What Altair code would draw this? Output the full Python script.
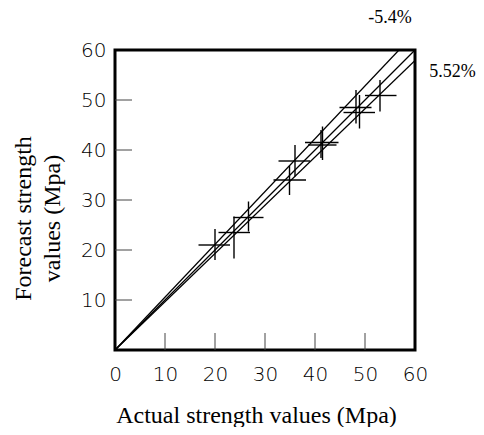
import altair as alt
import pandas as pd

# ---- data ----
pt_x = [20.0, 23.8, 26.7, 36.0, 34.9, 41.5, 41.2, 48.2, 48.9, 53.0]
pt_y = [21.0, 23.5, 26.5, 37.8, 34.0, 41.5, 41.0, 48.5, 47.5, 50.9]
x_lo = [16.7, 20.7, 23.7, 32.7, 31.7, 38.0, 38.6, 44.9, 45.7, 50.0]
x_hi = [23.0, 27.0, 29.7, 39.0, 38.2, 44.7, 44.3, 51.3, 52.0, 56.3]
y_lo = [18.0, 18.3, 23.7, 34.7, 31.0, 38.0, 38.4, 45.3, 44.3, 47.7]
y_hi = [24.2, 26.7, 29.7, 41.0, 36.8, 44.7, 44.0, 52.0, 51.0, 54.0]

line_names = ["upper", "middle", "lower"]
line_end_x = [56.8, 60.0, 60.0]
line_end_y = [60.0, 60.0, 57.9]

x_tick_labels = [0, 10, 20, 30, 40, 50, 60]
y_tick_labels = [10, 20, 30, 40, 50, 60]
inner_ticks = [10, 20, 30, 40, 50]
tick_len = 3.4

ann_text = ["-5.4%", "5.52%"]
ann_x = [55.0, 67.5]
ann_y = [66.5, 55.7]

# ---- tables ----
pts = pd.DataFrame({"px": pt_x, "py": pt_y, "xlo": x_lo, "xhi": x_hi,
                    "ylo": y_lo, "yhi": y_hi})
lines_rows = []
for n, ex, ey in zip(line_names, line_end_x, line_end_y):
    lines_rows.append({"id": n, "x": 0.0, "y": 0.0})
    lines_rows.append({"id": n, "x": ex, "y": ey})
lines_df = pd.DataFrame(lines_rows)
ticks_df = pd.DataFrame({"t": inner_ticks, "z": [0.0] * len(inner_ticks),
                         "l": [tick_len] * len(inner_ticks)})
ann_df = pd.DataFrame({"txt": ann_text, "x": ann_x, "y": ann_y})

xs = alt.Scale(domain=[0, 60], nice=False, zero=False)
ys = alt.Scale(domain=[0, 60], nice=False, zero=False)

xaxis = alt.Axis(values=x_tick_labels, ticks=False, domain=False, grid=False,
                 labelFont="DejaVu Sans", labelFontSize=20, labelFontWeight=200,
                 labelColor="black", labelPadding=14, labelFlush=False,
                 labelOverlap=False,
                 title="Actual strength values (Mpa)", titleFont="Liberation Serif",
                 titleFontSize=24, titleFontWeight="normal", titleColor="black",
                 titleX=141, titleY=72, titleBaseline="alphabetic")
yaxis = alt.Axis(values=y_tick_labels, ticks=False, domain=False, grid=False,
                 labelFont="DejaVu Sans", labelFontSize=20, labelFontWeight=200,
                 labelColor="black", labelPadding=9, labelFlush=False,
                 labelOverlap=False, labelBaseline="middle",
                 title=["Forecast strength", "values (Mpa)"],
                 titleFont="Liberation Serif", titleFontSize=24,
                 titleFontWeight="normal", titleColor="black",
                 titleAngle=270, titleX=-92, titleY=168, titleBaseline="middle",
                 titleAlign="center", titleLineHeight=29)


def X(f):
    return alt.X(f, type="quantitative", scale=xs, axis=xaxis)


def Y(f):
    return alt.Y(f, type="quantitative", scale=ys, axis=yaxis)


lines = alt.Chart(lines_df).mark_line(color="black", strokeWidth=1.2).encode(
    x=X("x"), y=Y("y"), detail="id:N")

hbars = alt.Chart(pts).mark_rule(color="black", strokeWidth=1.4).encode(
    x=X("xlo"), x2="xhi", y=Y("py"))
vbars = alt.Chart(pts).mark_rule(color="black", strokeWidth=1.4).encode(
    x=X("px"), y=Y("ylo"), y2="yhi")

xt = alt.Chart(ticks_df).mark_rule(color="#444", strokeWidth=1).encode(
    x=X("t"), y=Y("z"), y2="l")
yt = alt.Chart(ticks_df).mark_rule(color="#444", strokeWidth=1).encode(
    y=Y("t"), x=X("z"), x2="l")

ann = alt.Chart(ann_df).mark_text(font="Liberation Serif", fontSize=18,
                                  color="black", align="center",
                                  baseline="middle").encode(
    x=X("x"), y=Y("y"), text="txt:N")

chart = alt.layer(xt, yt, lines, hbars, vbars, ann).properties(
    width=300, height=300,
    background="white",
    autosize=alt.AutoSizeParams(type="none"),
    padding={"left": 107, "top": 42, "right": 61, "bottom": 77},
).configure_view(stroke="black", strokeWidth=3)

chart.save("out.html", embed_options={"renderer": "svg", "actions": False})
